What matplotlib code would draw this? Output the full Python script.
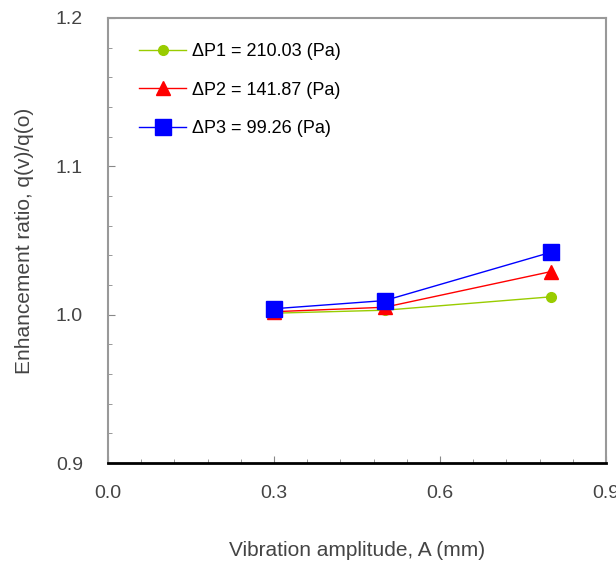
import matplotlib.pyplot as plt
from matplotlib.ticker import MultipleLocator

plt.rcParams['font.family'] = ['Liberation Sans', 'DejaVu Sans']

amplitude = [0.3, 0.5, 0.8]
ratio_p1 = [1.001, 1.003, 1.012]
ratio_p2 = [1.002, 1.005, 1.029]
ratio_p3 = [1.004, 1.0095, 1.042]
labels = ["\u0394P1 = 210.03 (Pa)", "\u0394P2 = 141.87 (Pa)", "\u0394P3 = 99.26 (Pa)"]

fig = plt.figure(figsize=(6.16, 5.65), dpi=100)
ax = fig.add_axes([108 / 616, 1 - 463 / 565, 498 / 616, 445 / 565])

ax.plot(amplitude, ratio_p1, color="#99cc00", marker="o", markersize=7, lw=1, label=labels[0])
ax.plot(amplitude, ratio_p2, color="#ff0000", marker="^", markersize=10, lw=1, label=labels[1])
ax.plot(amplitude, ratio_p3, color="#0000ff", marker="s", markersize=11, lw=1, label=labels[2])

ax.set_xlim(0, 0.9)
ax.set_ylim(0.9, 1.2)
ax.xaxis.set_major_locator(MultipleLocator(0.3))
ax.xaxis.set_minor_locator(MultipleLocator(0.06))
ax.yaxis.set_major_locator(MultipleLocator(0.1))
ax.yaxis.set_minor_locator(MultipleLocator(0.02))
ax.xaxis.set_major_formatter(plt.FormatStrFormatter("%.1f"))
ax.yaxis.set_major_formatter(plt.FormatStrFormatter("%.1f"))
ax.tick_params(which="both", direction="in", colors="#888888", labelcolor="#444444",
               labelsize=14)
ax.tick_params(axis="x", pad=16)
ax.tick_params(axis="y", pad=18)
ax.tick_params(which="major", length=5)
ax.tick_params(which="minor", length=3)

for side in ["top", "right", "left"]:
    ax.spines[side].set_color("#999999")
    ax.spines[side].set_linewidth(1.5)
ax.spines["bottom"].set_color("black")
ax.spines["bottom"].set_linewidth(2)

ax.set_xlabel("Vibration amplitude, A (mm)", fontsize=15, color="#444444", labelpad=28)
ax.set_ylabel("Enhancement ratio, q(v)/q(o)", fontsize=15, color="#444444", labelpad=16)

ax.legend(loc="upper left", bbox_to_anchor=(0.03, 0.98), frameon=False, fontsize=13,
          labelspacing=1.2, handlelength=2.6, handletextpad=0.3)

fig.savefig("out.png", dpi=100)
